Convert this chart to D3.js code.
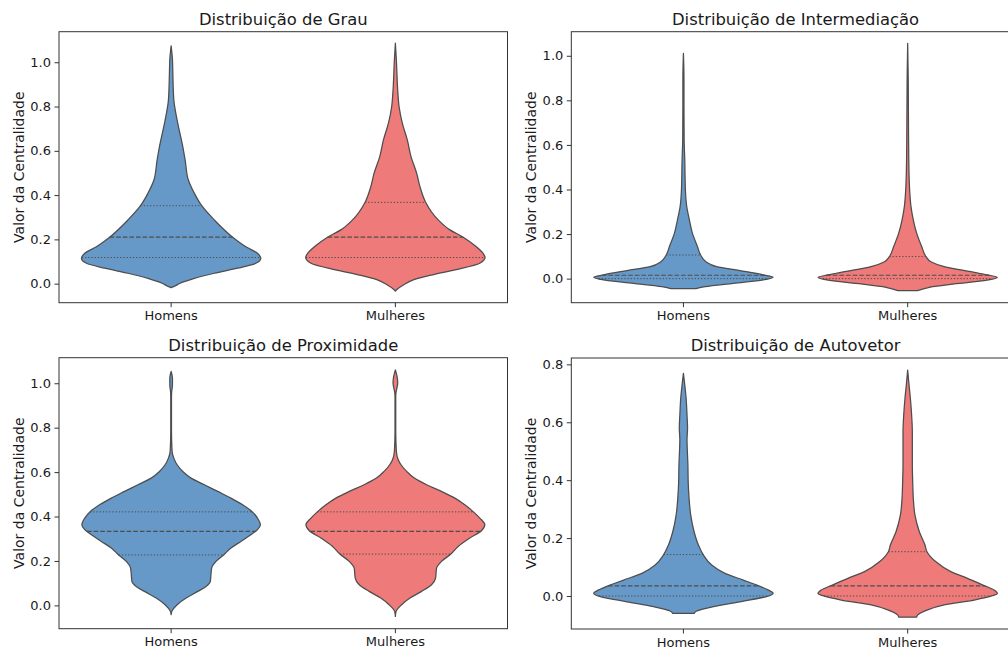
<!DOCTYPE html>
<html>
<head>
<meta charset="utf-8">
<script src="https://cdn.jsdelivr.net/npm/d3@7"></script>
<style>
  html, body { margin: 0; padding: 0; background: #fff; }
  svg { display: block; }
  text { font-family: "DejaVu Sans", sans-serif; fill: #1a1a1a; }
</style>
</head>
<body>
<svg id="chart" width="1008" height="651"></svg>
<script>
// ---------------- DATA ----------------
const categories = ["Homens", "Mulheres"];
const titles = [
  "Distribuição de Grau",
  "Distribuição de Intermediação",
  "Distribuição de Proximidade",
  "Distribuição de Autovetor"
];
const yLabel = "Valor da Centralidade";
const yDomains = [[-0.086, 1.138], [-0.108, 1.108], [-0.105, 1.115], [-0.114, 0.822]];
const yTickValues = [
  [0.0, 0.2, 0.4, 0.6, 0.8, 1.0],
  [0.0, 0.2, 0.4, 0.6, 0.8, 1.0],
  [0.0, 0.2, 0.4, 0.6, 0.8, 1.0],
  [0.0, 0.2, 0.4, 0.6, 0.8]
];

// violin density profiles: [value, relative half-width (1 = widest)]
const grauHomens = [
  [1.074, 0], [1.010, 0.015], [0.950, 0.019], [0.830, 0.030], [0.739, 0.067],
  [0.619, 0.13], [0.559, 0.156], [0.468, 0.192], [0.408, 0.259], [0.352, 0.341],
  [0.288, 0.481], [0.210, 0.686], [0.167, 0.833], [0.137, 0.963], [0.115, 1.0],
  [0.092, 0.944], [0.070, 0.741], [0.047, 0.481], [0.024, 0.259], [0.002, 0.10],
  [-0.010, 0.045], [-0.018, 0]
];
const grauMulheres = [
  [1.086, 0], [1.010, 0.011], [0.875, 0.026], [0.800, 0.041], [0.724, 0.078],
  [0.649, 0.133], [0.574, 0.174], [0.499, 0.237], [0.438, 0.274], [0.368, 0.337],
  [0.288, 0.478], [0.243, 0.608], [0.210, 0.756], [0.167, 0.903], [0.137, 0.978],
  [0.119, 1.0], [0.092, 0.941], [0.062, 0.663], [0.039, 0.403], [0.017, 0.2],
  [-0.006, 0.089], [-0.025, 0.02], [-0.033, 0]
];
const intermHomens = [
  [1.011, 0], [0.900, 0.006], [0.771, 0.006], [0.622, 0.008], [0.532, 0.015],
  [0.398, 0.022], [0.323, 0.037], [0.263, 0.067], [0.204, 0.10], [0.144, 0.156],
  [0.106, 0.192], [0.076, 0.252], [0.054, 0.37], [0.036, 0.63], [0.017, 0.889],
  [0.006, 1.0], [-0.006, 0.889], [-0.021, 0.556], [-0.036, 0.241], [-0.045, 0.14]
];
const intermMulheres = [
  [1.056, 0], [0.900, 0.006], [0.771, 0.008], [0.547, 0.012], [0.473, 0.015],
  [0.398, 0.022], [0.323, 0.037], [0.263, 0.063], [0.204, 0.10], [0.144, 0.156],
  [0.099, 0.204], [0.076, 0.259], [0.054, 0.408], [0.031, 0.703], [0.017, 0.889],
  [0.005, 1.0], [-0.009, 0.852], [-0.024, 0.519], [-0.039, 0.241], [-0.054, 0.11]
];
const proxHomens = [
  [1.053, 0], [1.023, 0.015], [0.993, 0.015], [0.960, 0.006], [0.933, 0.004],
  [0.783, 0.004], [0.693, 0.011], [0.663, 0.03], [0.633, 0.067], [0.603, 0.13],
  [0.573, 0.222], [0.543, 0.37], [0.513, 0.519], [0.483, 0.667], [0.453, 0.797],
  [0.423, 0.90], [0.393, 0.963], [0.363, 0.995], [0.341, 0.963], [0.318, 0.889],
  [0.288, 0.778], [0.258, 0.667], [0.227, 0.585], [0.198, 0.50], [0.168, 0.452],
  [0.138, 0.444], [0.108, 0.437], [0.085, 0.389], [0.063, 0.297], [0.033, 0.167],
  [0.003, 0.067], [-0.027, 0.008], [-0.042, 0]
];
const proxMulheres = [
  [1.060, 0], [1.023, 0.022], [1.000, 0.026], [0.978, 0.017], [0.955, 0.006],
  [0.933, 0.004], [0.783, 0.004], [0.693, 0.011], [0.655, 0.033], [0.633, 0.063],
  [0.603, 0.126], [0.573, 0.211], [0.543, 0.348], [0.513, 0.514], [0.483, 0.663],
  [0.453, 0.774], [0.421, 0.87], [0.393, 0.941], [0.363, 0.997], [0.336, 0.959],
  [0.303, 0.83], [0.265, 0.70], [0.231, 0.619], [0.198, 0.514], [0.168, 0.459],
  [0.123, 0.448], [0.093, 0.403], [0.063, 0.292], [0.033, 0.163], [0.003, 0.07],
  [-0.027, 0.008], [-0.050, 0]
];
const autoHomens = [
  [0.769, 0], [0.729, 0.015], [0.683, 0.03], [0.625, 0.04], [0.580, 0.046],
  [0.540, 0.04], [0.498, 0.044], [0.452, 0.05], [0.395, 0.053], [0.337, 0.063],
  [0.280, 0.081], [0.222, 0.119], [0.176, 0.167], [0.142, 0.222], [0.107, 0.315],
  [0.078, 0.463], [0.055, 0.667], [0.036, 0.833], [0.021, 0.944], [0.009, 1.0],
  [-0.002, 0.926], [-0.020, 0.63], [-0.037, 0.333], [-0.052, 0.148], [-0.060, 0.12]
];
const autoMulheres = [
  [0.780, 0], [0.729, 0.015], [0.683, 0.03], [0.625, 0.044], [0.567, 0.052],
  [0.510, 0.052], [0.452, 0.052], [0.395, 0.056], [0.337, 0.063], [0.280, 0.081],
  [0.222, 0.13], [0.176, 0.193], [0.153, 0.215], [0.118, 0.315], [0.084, 0.481],
  [0.061, 0.667], [0.036, 0.852], [0.021, 0.963], [0.009, 1.0], [0.001, 0.944],
  [-0.014, 0.741], [-0.031, 0.407], [-0.048, 0.222], [-0.066, 0.11], [-0.073, 0.10]
];

// quartiles [Q1, median, Q3]
const quartiles = [
  [[0.118, 0.210, 0.352], [0.118, 0.210, 0.367]],
  [[0.000, 0.015, 0.106], [0.000, 0.015, 0.099]],
  [[0.227, 0.333, 0.421], [0.231, 0.333, 0.421]],
  [[0.000, 0.035, 0.143], [0.000, 0.035, 0.153]]
];
const profiles = [
  [grauHomens, grauMulheres],
  [intermHomens, intermMulheres],
  [proxHomens, proxMulheres],
  [autoHomens, autoMulheres]
];

// ---------------- LAYOUT / STYLE ----------------
const colors = ["#6799c8", "#ee7a79"];
const lineColor = "#4d4d4d";
const layout = [
  { x: 59, y: 31.7 },
  { x: 571.3, y: 31.7 },
  { x: 59, y: 357.7 },
  { x: 571.3, y: 358 }
];
const PW = 448.5, PH = 271;

const svg = d3.select("#chart");

function widthAt(profile, v) {
  // linear lookup inside the read profile (sorted by value descending)
  for (let i = 0; i < profile.length - 1; i++) {
    const a = profile[i], b = profile[i + 1];
    if (v <= a[0] && v >= b[0]) {
      const t = (a[0] - v) / (a[0] - b[0]);
      return a[1] + t * (b[1] - a[1]);
    }
  }
  return 0;
}

titles.forEach((title, p) => {
  const L = layout[p];
  const g = svg.append("g").attr("transform", `translate(${L.x},${L.y})`);

  const x = d3.scaleBand().domain(categories).range([0, PW]).padding(0);
  const y = d3.scaleLinear().domain(yDomains[p]).range([PH, 0]);
  const w = d3.scaleLinear().domain([0, 1]).range([0, x.bandwidth() * 0.4]);

  // violins
  categories.forEach((cat, i) => {
    const cx = x(cat) + x.bandwidth() / 2;
    const prof = profiles[p][i];
    const area = d3.area()
      .y(d => y(d[0]))
      .x0(d => cx - w(d[1]))
      .x1(d => cx + w(d[1]))
      .curve(d3.curveMonotoneY);
    g.append("path")
      .datum(prof)
      .attr("d", area)
      .attr("fill", colors[i])
      .attr("stroke", lineColor)
      .attr("stroke-width", 1.25)
      .attr("stroke-linejoin", "round");

    const q = quartiles[p][i];
    q.forEach((v, k) => {
      const hw = w(widthAt(prof, v));
      g.append("line")
        .attr("x1", cx - hw).attr("x2", cx + hw)
        .attr("y1", y(v)).attr("y2", y(v))
        .attr("stroke", lineColor)
        .attr("stroke-width", k === 1 ? 1.1 : 1)
        .attr("stroke-dasharray", k === 1 ? "4.6,2" : "1.3,1.9");
    });
  });

  // axes
  const yAxis = d3.axisLeft(y).tickValues(yTickValues[p]).tickFormat(d3.format(".1f"))
    .tickSize(4.5).tickPadding(3.5);
  const ya = g.append("g").call(yAxis);
  const xAxis = d3.axisBottom(x).tickSize(4.5).tickPadding(4);
  const xa = g.append("g").attr("transform", `translate(0,${PH})`).call(xAxis);
  [ya, xa].forEach(a => {
    a.select(".domain").remove();
    a.selectAll(".tick line").attr("stroke", "#333").attr("stroke-width", 1);
    a.selectAll(".tick text").attr("font-size", "13px")
      .attr("font-family", "DejaVu Sans, sans-serif").attr("fill", "#111");
  });

  // frame
  g.append("rect")
    .attr("x", 0).attr("y", 0).attr("width", PW).attr("height", PH)
    .attr("fill", "none").attr("stroke", "#333").attr("stroke-width", 1);

  // title
  g.append("text")
    .attr("x", PW / 2).attr("y", -6.8)
    .attr("text-anchor", "middle")
    .attr("font-size", "16.4px")
    .attr("fill", "#111")
    .text(title);

  // y label
  g.append("text")
    .attr("transform", `translate(${-35},${PH / 2}) rotate(-90)`)
    .attr("text-anchor", "middle")
    .attr("font-size", "14px")
    .attr("fill", "#111")
    .text(yLabel);
});
</script>
</body>
</html>
